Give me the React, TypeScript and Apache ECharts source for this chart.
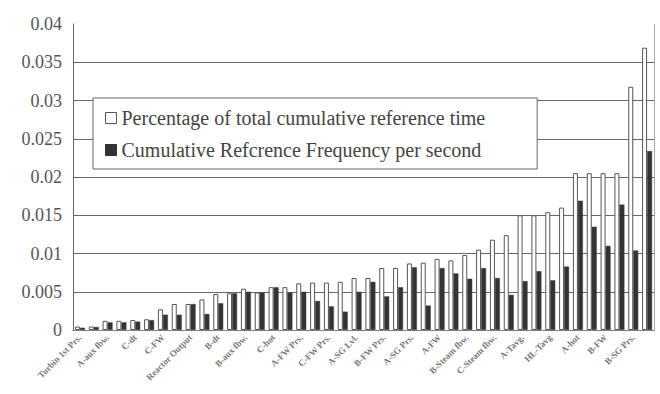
import React, { useEffect, useRef } from "react";
import * as echarts from "echarts";

const tickLabels = [
  "Turbin 1st Prs.", "A-aux fbw.", "C-dt", "C-FW", "Reactor Output", "B-dt",
  "B-aux fbw.", "C-hot", "A-FW Prs.", "C-FW Prs.", "A-SG Lvl.", "B-FW Prs.",
  "A-SG Prs.", "A-FW", "B-Steam fbw.", "C-Steam fbw.", "A-Tavg.", "HL-Tavg",
  "A-hot", "B-FW", "B-SG Prs.",
];

const categories = Array.from({ length: 42 }, (_, i) => String(i + 1));

const percentTime = [
  0.00045, 0.00045, 0.0012, 0.0012, 0.0013, 0.0014, 0.0027, 0.0034, 0.0034, 0.004,
  0.0047, 0.0048, 0.0054, 0.0049, 0.0056, 0.0056, 0.0061, 0.0062, 0.0062, 0.0063,
  0.0068, 0.0068, 0.0081, 0.0081, 0.0087, 0.0088, 0.0093, 0.0091, 0.0098, 0.0105,
  0.0118, 0.0124, 0.015, 0.015, 0.0154, 0.016, 0.0205, 0.0205, 0.0205, 0.0205,
  0.0318, 0.0369,
];

const freqPerSecond = [
  0.0003, 0.0004, 0.001, 0.001, 0.0011, 0.0013, 0.002, 0.002, 0.0034, 0.0021,
  0.0035, 0.0048, 0.005, 0.0049, 0.0056, 0.0049, 0.005, 0.0038, 0.0031, 0.0024,
  0.005, 0.0063, 0.0044, 0.0056, 0.0082, 0.0032, 0.0081, 0.0074, 0.0067, 0.0081,
  0.0068, 0.0046, 0.0064, 0.0077, 0.0065, 0.0083, 0.0169, 0.0135, 0.011, 0.0164,
  0.0104, 0.0234,
];

const seriesNames = [
  "Percentage of total cumulative reference time",
  "Cumulative Refcrence Frequency per second",
];

export default function App() {
  const ref = useRef<HTMLDivElement>(null);
  useEffect(() => {
    if (!ref.current) return;
    const chart = echarts.init(ref.current, null, { renderer: "svg" });
    const serif = "'Liberation Serif', 'DejaVu Serif', serif";
    chart.setOption({
      animation: false,
      backgroundColor: "#ffffff",
      textStyle: { fontFamily: serif },
      grid: { left: 73, right: 6, top: 24, bottom: 64, containLabel: false },
      legend: {
        orient: "vertical",
        left: 93,
        top: 98,
        padding: [10, 52, 9, 12],
        itemGap: 12,
        itemWidth: 11,
        itemHeight: 11,
        backgroundColor: "#ffffff",
        borderColor: "#666",
        borderWidth: 1,
        textStyle: { fontFamily: serif, fontSize: 20, color: "#444" },
        data: [
          { name: seriesNames[0], icon: "rect", itemStyle: { color: "#ffffff", borderColor: "#555", borderWidth: 1 } },
          { name: seriesNames[1], icon: "rect", itemStyle: { color: "#333", borderColor: "#333", borderWidth: 1 } },
        ],
      },
      xAxis: [
        {
          type: "category",
          data: categories,
          axisLine: { lineStyle: { color: "#666", width: 1 } },
          axisTick: { show: false },
          axisLabel: {
            interval: 0,
            rotate: 45,
            fontSize: 9,
            fontWeight: "bold",
            color: "#777",
            margin: 6,
            formatter: (_v: string, i: number) => (i % 2 === 0 ? tickLabels[i / 2] : ""),
          },
        },
        {
          type: "category",
          data: categories,
          position: "top",
          axisLine: { lineStyle: { color: "#888", type: "dotted", width: 1 } },
          axisTick: { show: false },
          axisLabel: { show: false },
        },
      ],
      yAxis: [
        {
          type: "value",
          min: 0,
          max: 0.04,
          interval: 0.005,
          axisLine: { show: true, lineStyle: { color: "#666", width: 1 } },
          axisTick: { show: false },
          axisLabel: { fontSize: 18, color: "#555", margin: 11, fontFamily: serif },
          splitLine: { show: true, showMinLine: false, showMaxLine: false, lineStyle: { color: "#666", width: 1 } },
        },
        {
          type: "value",
          min: 0,
          max: 0.04,
          interval: 0.005,
          position: "right",
          axisLine: { show: true, lineStyle: { color: "#999", type: "dotted", width: 1 } },
          axisTick: { show: false },
          axisLabel: { show: false },
          splitLine: { show: false },
        },
      ],
      series: [
        {
          name: seriesNames[0],
          type: "bar",
          data: percentTime,
          barWidth: 5,
          barGap: "0%",
          itemStyle: { color: "#ffffff", borderColor: "#555", borderWidth: 1 },
        },
        {
          name: seriesNames[1],
          type: "bar",
          data: freqPerSecond,
          barWidth: 5,
          itemStyle: { color: "#333", borderColor: "#444", borderWidth: 0.5 },
        },
      ],
    });
    return () => chart.dispose();
  }, []);
  return (
    <div
      ref={ref}
      style={{ position: "absolute", left: 0, top: 0, width: 660, height: 394 }}
    />
  );
}
